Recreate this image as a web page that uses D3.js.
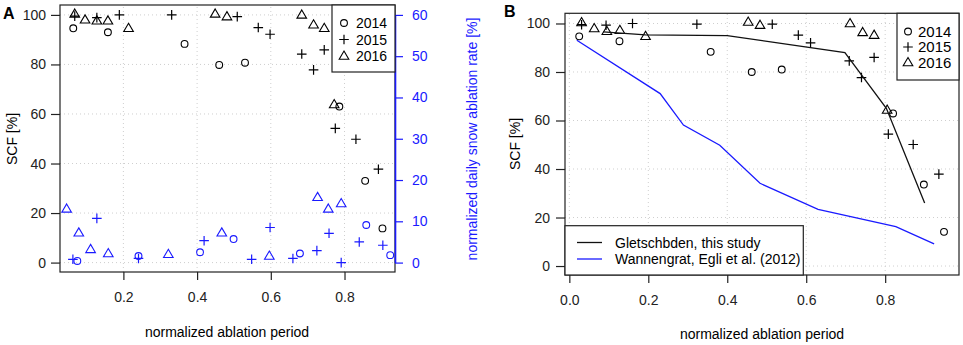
<!DOCTYPE html>
<html>
<head>
<meta charset="utf-8">
<script src="https://cdn.jsdelivr.net/npm/d3@7"></script>
<style>
  body { margin: 0; background: #fff; }
  text { font-family: "Liberation Sans", Arial, sans-serif; }
</style>
</head>
<body>
<svg id="chart" width="963" height="345"></svg>
<script>
// ---- panel A : SCF (left axis, black) ----
const aScf2014x = [0.064, 0.158, 0.366, 0.46, 0.53, 0.786, 0.856, 0.903];
const aScf2014y = [94.6, 93.0, 88.3, 79.8, 80.7, 63, 33, 13.8];
const aScf2015x = [0.068, 0.128, 0.189, 0.331, 0.509, 0.566, 0.598, 0.684, 0.716, 0.745, 0.775, 0.831, 0.892];
const aScf2015y = [99.5, 98.9, 100, 100, 99.3, 94.9, 92.2, 84.2, 77.8, 85.9, 54.2, 49.8, 37.7];
const aScf2016x = [0.068, 0.096, 0.128, 0.158, 0.214, 0.449, 0.481, 0.684, 0.716, 0.745, 0.772];
const aScf2016y = [100.4, 98, 97.6, 97.6, 94.6, 100.4, 99.3, 100, 96, 94.6, 63.8];
// ---- panel A : ablation rate (right axis, blue) ----
const aRate2014x = [0.075, 0.241, 0.408, 0.499, 0.679, 0.859, 0.924];
const aRate2014y = [0.4, 1.6, 2.5, 5.7, 2.2, 9.1, 1.8];
const aRate2015x = [0.063, 0.128, 0.241, 0.419, 0.548, 0.598, 0.660, 0.725, 0.758, 0.791, 0.840, 0.904];
const aRate2015y = [0.8, 10.7, 1.0, 5.3, 0.8, 8.5, 1.0, 2.9, 7.1, 0, 5.0, 4.2];
const aRate2016x = [0.046, 0.079, 0.111, 0.159, 0.322, 0.467, 0.596, 0.727, 0.756, 0.791];
const aRate2016y = [13.0, 7.2, 3.2, 2.2, 2.0, 7.2, 1.6, 15.8, 13.0, 14.3];
// ---- panel B ----
const b2014x = [0.025, 0.127, 0.358, 0.462, 0.538, 0.820, 0.898, 0.949];
const b2014y = [94.7, 92.7, 88.3, 80, 81, 62.9, 33.6, 14.1];
const b2015x = [0.031, 0.093, 0.160, 0.323, 0.514, 0.580, 0.611, 0.709, 0.740, 0.772, 0.808, 0.871, 0.936];
const b2015y = [99.5, 99.3, 100, 99.7, 99.7, 95.2, 92, 84.6, 77.7, 86, 54.4, 50.1, 37.9];
const b2016x = [0.031, 0.063, 0.095, 0.128, 0.193, 0.453, 0.483, 0.711, 0.743, 0.772, 0.805];
const b2016y = [100.4, 97.9, 96.8, 97.2, 94.7, 100.6, 99.3, 100, 96.3, 95.2, 64.3];
const gletschX = [0.086, 0.193, 0.40, 0.698, 0.803, 0.90];
const gletschY = [96.5, 95.3, 95, 88, 65, 26];
const wannX = [0.019, 0.230, 0.289, 0.381, 0.483, 0.630, 0.827, 0.924];
const wannY = [93.1, 71.1, 58.1, 49.8, 34.1, 23.4, 16.2, 9.1];

const years = ["2014", "2015", "2016"];
const shapes = ["circle", "plus", "triangle"];
const scfTicks = [0, 20, 40, 60, 80, 100];
const rateTicks = [0, 10, 20, 30, 40, 50, 60];
const aXTicks = [0.2, 0.4, 0.6, 0.8];
const bXTicks = [0, 0.2, 0.4, 0.6, 0.8];
const lineNames = ["Gletschbden, this study", "Wannengrat, Egli et al. (2012)"];

const BLUE = "#1a1aff";
const svg = d3.select("#chart");

function symbol(g, shape, x, y, color) {
  if (shape === "circle") {
    g.append("circle").attr("cx", x).attr("cy", y).attr("r", 3.4)
      .attr("fill", "none").attr("stroke", color).attr("stroke-width", 1.1);
  } else if (shape === "plus") {
    g.append("path").attr("d", `M${x-4.8},${y}H${x+4.8}M${x},${y-4.8}V${y+4.8}`)
      .attr("stroke", color).attr("stroke-width", 1.2).attr("fill", "none");
  } else {
    g.append("path").attr("d", `M${x},${y-5}L${x+4.8},${y+3.2}L${x-4.8},${y+3.2}Z`)
      .attr("stroke", color).attr("stroke-width", 1.1).attr("fill", "none");
  }
}

function grid(g, x, y, xt, yt) {
  const [x0, x1] = x.range(), [y0, y1] = y.range();
  xt.forEach(t => g.append("line").attr("x1", x(t)).attr("x2", x(t)).attr("y1", y0).attr("y2", y1)
    .attr("stroke", "#cfcfcf").attr("stroke-dasharray", "1,3"));
  yt.forEach(t => g.append("line").attr("x1", x0).attr("x2", x1).attr("y1", y(t)).attr("y2", y(t))
    .attr("stroke", "#cfcfcf").attr("stroke-dasharray", "1,3"));
}

function styleAxis(ax, color) {
  ax.selectAll("path, line").attr("stroke", color).attr("stroke-width", 1.2);
  ax.selectAll("text").attr("fill", color).attr("font-size", 14)
    .attr("font-family", "Liberation Sans, Arial, sans-serif");
}

// ================= panel A =================
const xA = d3.scaleLinear().domain([0.028, 0.937]).range([60, 395]);
const yA = d3.scaleLinear().domain([-3.8, 104]).range([272, 5]);
const rA = d3.scaleLinear().domain([0, 60]).range([yA(0), yA(100)]);
const gA = svg.append("g");
grid(gA, xA, yA, aXTicks, scfTicks);

const scfA = [[aScf2014x, aScf2014y], [aScf2015x, aScf2015y], [aScf2016x, aScf2016y]];
const rateA = [[aRate2014x, aRate2014y], [aRate2015x, aRate2015y], [aRate2016x, aRate2016y]];
scfA.forEach(([xs, ys], i) => xs.forEach((v, j) => symbol(gA, shapes[i], xA(v), yA(ys[j]), "#000")));
rateA.forEach(([xs, ys], i) => xs.forEach((v, j) => symbol(gA, shapes[i], xA(v), rA(ys[j]), BLUE)));

gA.append("rect").attr("x", 60).attr("y", 5).attr("width", 335).attr("height", 267)
  .attr("fill", "none").attr("stroke", "#222").attr("stroke-width", 1.2);

const axAL = gA.append("g").attr("transform", "translate(60,0)")
  .call(d3.axisLeft(yA).tickValues(scfTicks).tickSize(9).tickPadding(5).tickFormat(d3.format("d")));
axAL.select(".domain").remove();
styleAxis(axAL, "#222");
const axAB = gA.append("g").attr("transform", "translate(0,272)")
  .call(d3.axisBottom(xA).tickValues(aXTicks).tickSize(8).tickPadding(12).tickFormat(d3.format(".1f")));
axAB.select(".domain").remove();
styleAxis(axAB, "#222");
const axAR = gA.append("g").attr("transform", "translate(395,0)")
  .call(d3.axisRight(rA).tickValues(rateTicks).tickSize(8).tickPadding(9).tickSizeOuter(0));
styleAxis(axAR, BLUE);
axAR.select(".domain").attr("stroke-width", 1.6);

gA.append("text").attr("x", 3).attr("y", 19).attr("font-size", 16).attr("font-weight", "bold").text("A");
gA.append("text").attr("transform", "translate(17,139) rotate(-90)").attr("text-anchor", "middle")
  .attr("font-size", 14).text("SCF [%]");
gA.append("text").attr("transform", "translate(477,139) rotate(-90)").attr("text-anchor", "middle")
  .attr("font-size", 14).attr("fill", BLUE).text("normalized daily snow ablation rate [%]");
gA.append("text").attr("x", 227).attr("y", 337).attr("text-anchor", "middle")
  .attr("font-size", 14).text("normalized ablation period");

// legend A
gA.append("rect").attr("x", 332).attr("y", 5).attr("width", 63).attr("height", 67)
  .attr("fill", "#fff").attr("stroke", "#222").attr("stroke-width", 1.2);
years.forEach((yr, i) => {
  symbol(gA, shapes[i], 344, 23 + i * 16.5, "#000");
  gA.append("text").attr("x", 356).attr("y", 23 + i * 16.5).attr("dy", "0.36em")
    .attr("font-size", 14).text(yr);
});

// ================= panel B =================
const xB = d3.scaleLinear().domain([-0.011, 0.987]).range([565, 959]);
const yB = d3.scaleLinear().domain([-3.7, 104.2]).range([275, 13.3]);
const gB = svg.append("g");
grid(gB, xB, yB, bXTicks, scfTicks);

const scfB = [[b2014x, b2014y], [b2015x, b2015y], [b2016x, b2016y]];
scfB.forEach(([xs, ys], i) => xs.forEach((v, j) => symbol(gB, shapes[i], xB(v), yB(ys[j]), "#000")));

const line = d3.line().x(d => xB(d[0])).y(d => yB(d[1]));
gB.append("path").attr("d", line(gletschX.map((v, i) => [v, gletschY[i]])))
  .attr("fill", "none").attr("stroke", "#111").attr("stroke-width", 1.3);
gB.append("path").attr("d", line(wannX.map((v, i) => [v, wannY[i]])))
  .attr("fill", "none").attr("stroke", BLUE).attr("stroke-width", 1.3);

gB.append("rect").attr("x", 565).attr("y", 13.3).attr("width", 394).attr("height", 261.7)
  .attr("fill", "none").attr("stroke", "#222").attr("stroke-width", 1.2);

const axBL = gB.append("g").attr("transform", "translate(565,0)")
  .call(d3.axisLeft(yB).tickValues(scfTicks).tickSize(9).tickPadding(6).tickFormat(d3.format("d")));
axBL.select(".domain").remove();
styleAxis(axBL, "#222");
const axBB = gB.append("g").attr("transform", "translate(0,275)")
  .call(d3.axisBottom(xB).tickValues(bXTicks).tickSize(8).tickPadding(12).tickFormat(d3.format(".1f")));
axBB.select(".domain").remove();
styleAxis(axBB, "#222");

gB.append("text").attr("x", 504).attr("y", 17).attr("font-size", 16).attr("font-weight", "bold").text("B");
gB.append("text").attr("transform", "translate(520,144) rotate(-90)").attr("text-anchor", "middle")
  .attr("font-size", 14).text("SCF [%]");
gB.append("text").attr("x", 762).attr("y", 339).attr("text-anchor", "middle")
  .attr("font-size", 14).text("normalized ablation period");

// legend B (years)
gB.append("rect").attr("x", 897).attr("y", 13.3).attr("width", 62).attr("height", 66.7)
  .attr("fill", "#fff").attr("stroke", "#222").attr("stroke-width", 1.2);
years.forEach((yr, i) => {
  symbol(gB, shapes[i], 908, 31.5 + i * 15.5, "#000");
  gB.append("text").attr("x", 918).attr("y", 31.5 + i * 15.5).attr("dy", "0.36em")
    .attr("font-size", 15).text(yr);
});

// legend B (lines)
gB.append("rect").attr("x", 565).attr("y", 225.7).attr("width", 238.3).attr("height", 49.3)
  .attr("fill", "#fff").attr("stroke", "#222").attr("stroke-width", 1.2);
[ "#111", BLUE ].forEach((c, i) => {
  const yy = 242.5 + i * 16.5;
  gB.append("line").attr("x1", 577).attr("x2", 602).attr("y1", yy).attr("y2", yy)
    .attr("stroke", c).attr("stroke-width", 1.3);
  gB.append("text").attr("x", 615).attr("y", yy).attr("dy", "0.36em")
    .attr("font-size", 14).text(lineNames[i]);
});
</script>
</body>
</html>
